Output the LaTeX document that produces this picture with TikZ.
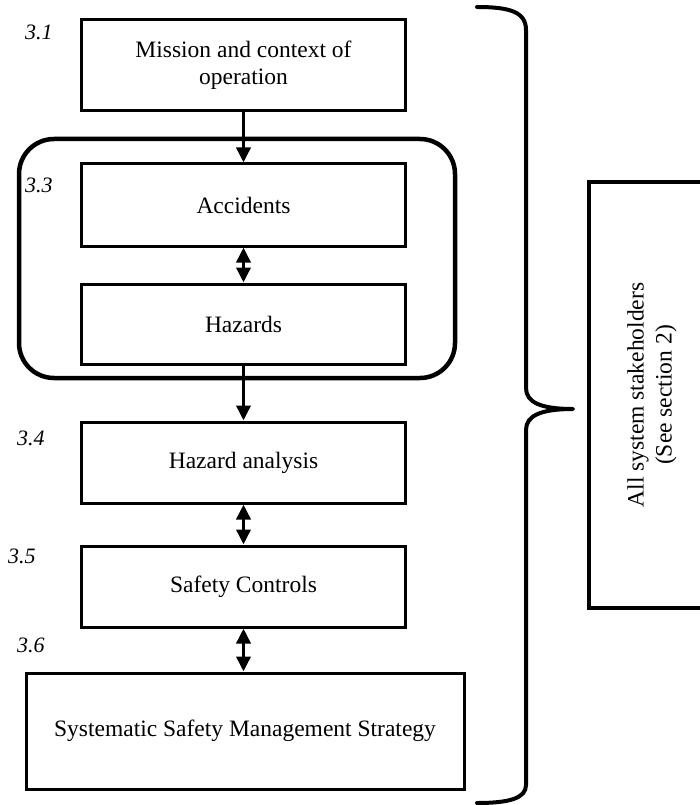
\documentclass[tikz,border=0pt]{standalone}
\usepackage{fontspec}
\setmainfont{Liberation Serif}
\usetikzlibrary{arrows.meta}
\begin{document}
\begin{tikzpicture}[x=1pt,y=-1pt,
  box/.style={draw, line width=3pt, minimum width=324pt, inner sep=0pt, align=center,
    font=\fontsize{23.5}{27}\selectfont},
  lab/.style={anchor=base west, inner sep=0pt, font=\fontsize{22}{24}\selectfont\itshape},
  tip/.style={Triangle[length=15pt,width=14pt]},
  arr/.style={line width=3.5pt, -{Triangle[length=15pt,width=14pt]}},
  darr/.style={line width=3.5pt, {Triangle[length=15pt,width=14pt]}-{Triangle[length=15pt,width=14pt]}},
  bracestyle/.style={line width=4pt, line cap=round, line join=round}]
\useasboundingbox (0,0) rectangle (700,805);
\clip (0,0) rectangle (700,805);

% group around accidents / hazards
\node[draw, line width=4.5pt, rounded corners=35pt, minimum width=436pt, minimum height=239pt, inner sep=0pt] (grp) at (237,258.5) {};

% main boxes
\node[box, minimum height=91pt] (mis) at (243.5,65.5) {Mission and context of\\operation};
\node[box, minimum height=82pt] (acc) at (243.5,205) {Accidents};
\node[box, minimum height=80pt] (haz) at (243.5,324) {Hazards};
\node[box, minimum height=81pt] (ha) at (243.5,462.5) {Hazard analysis};
\node[box, minimum height=81pt] (sc) at (243.5,586.5) {Safety Controls};
\node[box, minimum width=438pt, minimum height=116pt] (ssm) at (245,731) {Systematic Safety Management Strategy};

% section labels
\node[lab] (l31) at (25,40) {3.1};
\node[lab] (l33) at (25,193) {3.3};
\node[lab] (l34) at (17,445) {3.4};
\node[lab] (l35) at (8,563) {3.5};
\node[lab] (l36) at (17,652) {3.6};

% connectors
\draw[arr] (mis.south) -- (acc.north);
\draw[darr] (acc.south) -- (haz.north);
\draw[arr] (haz.south) -- (ha.north);
\draw[darr] (ha.south) -- (sc.north);
\draw[darr] (sc.south) -- (sc.south |- ssm.north);

% stakeholders box
\node[draw, line width=4pt, rotate=90, minimum width=426pt, minimum height=126pt, inner sep=0pt,
  align=center, font=\fontsize{23.5}{28}\selectfont] (stk) at (652,395)
  {All system stakeholders\\(See section 2)};

% brace
\draw[bracestyle] (477,7) .. controls (510,7) and (526,12) .. (526,30)
  -- (526,388) .. controls (526,402) and (540,409) .. (573,409)
  .. controls (540,409) and (526,416) .. (526,430)
  -- (526,785) .. controls (526,798) and (510,803) .. (477,803);
\end{tikzpicture}
\end{document}
